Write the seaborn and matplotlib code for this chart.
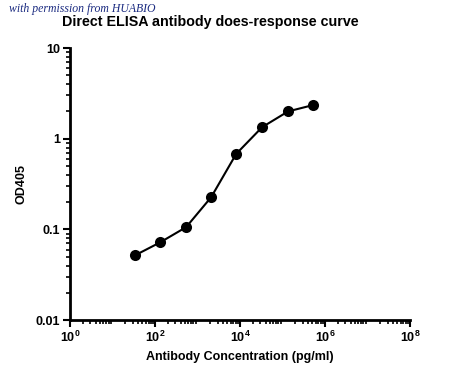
import matplotlib
matplotlib.use("Agg")
import matplotlib.pyplot as plt
import seaborn as sns
import pandas as pd
from matplotlib.ticker import LogLocator, FixedLocator, NullFormatter

concentration = [34, 131, 537, 2090, 8100, 33000, 135000, 525000]
od405 = [0.052, 0.072, 0.106, 0.227, 0.68, 1.34, 2.0, 2.35]

title = "Direct ELISA antibody does-response curve"
xlabel = "Antibody Concentration (pg/ml)"
ylabel = "OD405"
ytick_vals = [0.01, 0.1, 1, 10]
ytick_labels = ["0.01", "0.1", "1", "10"]
xtick_vals = [1, 1e2, 1e4, 1e6, 1e8]
xtick_labels = ["$\\mathregular{10^{0}}$", "$\\mathregular{10^{2}}$", "$\\mathregular{10^{4}}$",
                "$\\mathregular{10^{6}}$", "$\\mathregular{10^{8}}$"]
watermark = "with permission from HUABIO"

sns.set_style("white")
plt.rcParams['font.family'] = ['Liberation Sans', 'DejaVu Sans']
plt.rcParams.update({"text.color": "black", "axes.labelcolor": "black",
                     "xtick.color": "black", "ytick.color": "black"})

df = pd.DataFrame({"conc": concentration, "od": od405})

fig = plt.figure(figsize=(4.5, 3.78), dpi=100)
ax = fig.add_axes([0.156, 0.153, 0.755, 0.72])

sns.lineplot(data=df, x="conc", y="od", ax=ax, color="black", linewidth=1.5,
             marker="o", markersize=8, markeredgewidth=0, markerfacecolor="black")

ax.set_xscale("log")
ax.set_yscale("log")
ax.set_xlim(1, 1e8)
ax.set_ylim(0.01, 10)

ax.xaxis.set_major_locator(FixedLocator(xtick_vals))
ax.set_xticklabels(xtick_labels, fontsize=9, fontweight="bold")
ax.xaxis.set_minor_locator(LogLocator(base=10, subs=range(2, 10), numticks=100))
ax.xaxis.set_minor_formatter(NullFormatter())

ax.yaxis.set_major_locator(FixedLocator(ytick_vals))
ax.set_yticklabels(ytick_labels, fontsize=9, fontweight="bold")
ax.yaxis.set_minor_locator(LogLocator(base=10, subs=range(2, 10), numticks=100))
ax.yaxis.set_minor_formatter(NullFormatter())

for s in ["top", "right"]:
    ax.spines[s].set_visible(False)
for s in ["left", "bottom"]:
    ax.spines[s].set_linewidth(2)
    ax.spines[s].set_color("black")

ax.tick_params(axis="both", which="major", direction="out", length=5, width=1.5,
               color="black", labelcolor="black", pad=2, bottom=True, left=True)
ax.tick_params(axis="both", which="minor", direction="out", length=3, width=1.2,
               color="black", bottom=True, left=True)

ax.set_xlabel(xlabel, fontsize=9, fontweight="bold", labelpad=4, color="black")
ax.set_ylabel(ylabel, fontsize=9, fontweight="bold", labelpad=6, color="black")
ax.grid(False)

fig.text(0.467, 0.942, title, ha="center", va="center", fontsize=10.3,
         fontweight="bold", color="black")
fig.text(0.02, 0.975, watermark, ha="left", va="center", fontsize=8.5,
         style="italic", color="#1a2a80", family=["Liberation Serif", "DejaVu Serif"])

fig.savefig("out.png", dpi=100, facecolor="white")
